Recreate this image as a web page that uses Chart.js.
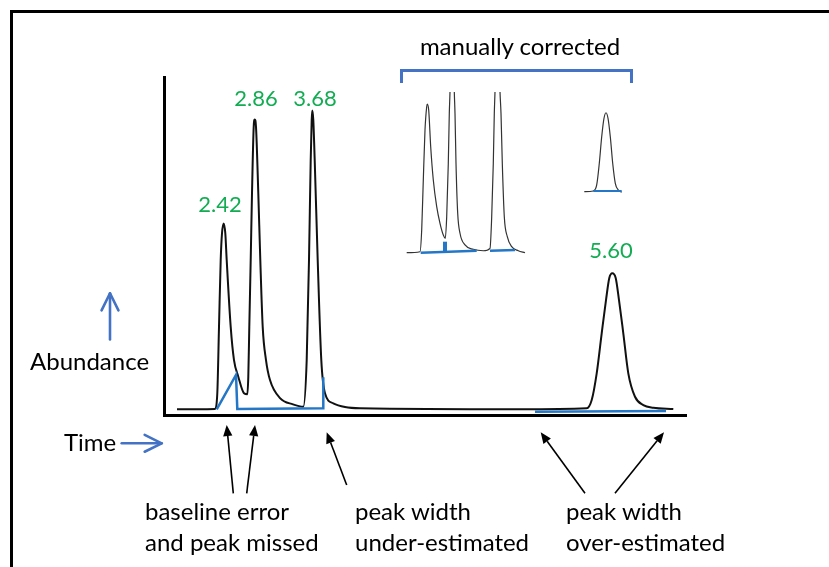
<!DOCTYPE html>
<html>
<head>
<meta charset="utf-8">
<script src="https://cdn.jsdelivr.net/npm/chart.js@4.4.1/dist/chart.umd.min.js"></script>
<style>
  html, body { margin: 0; padding: 0; background: #fff; }
  body { width: 829px; height: 567px; position: relative; overflow: hidden; font-family: Lato, "Open Sans", sans-serif; }
  #frame { position: absolute; left: 10px; top: 10px; width: 900px; height: 700px; border-left: 3px solid #000; border-top: 3px solid #000; }
  #main { position: absolute; left: 0; top: 0; }
  #inset { position: absolute; left: 404px; top: 92px; }
  #bracket { position: absolute; left: 400px; top: 69px; width: 233px; height: 14px; box-sizing: border-box; border: 3px solid #4472c4; border-bottom: none; }
  .lbl { position: absolute; font-size: 24px; line-height: 24px; color: #000; white-space: nowrap; }
  .rt { color: #12ad52; font-size: 22px; line-height: 22px; transform: translateX(-50%); }
  .note { line-height: 31px; }
</style>
</head>
<body>
<div id="frame"></div>
<canvas id="main" width="829" height="567"></canvas>
<canvas id="inset" width="222" height="162"></canvas>
<div id="bracket"></div>

<div class="lbl" style="left:520px;top:34px;transform:translateX(-50%)">manually corrected</div>
<div class="lbl rt" style="left:220px;top:193px">2.42</div>
<div class="lbl rt" style="left:256px;top:87px">2.86</div>
<div class="lbl rt" style="left:315px;top:87px">3.68</div>
<div class="lbl rt" style="left:611px;top:239px">5.60</div>
<div class="lbl" style="left:30px;top:349px">Abundance</div>
<div class="lbl" style="left:64px;top:430px">Time</div>
<div class="lbl note" style="left:145px;top:495px">baseline error<br>and peak missed</div>
<div class="lbl note" style="left:355px;top:495px">peak width<br>under-estimated</div>
<div class="lbl note" style="left:566px;top:495px">peak width<br>over-estimated</div>

<script>
// main chromatogram: retention time (arb. units) vs abundance (%)
const traceTime = [0.28, 1.04, 1.086, 1.12, 1.154, 1.18, 1.214, 1.246, 1.274, 1.354, 1.42, 1.506, 1.62, 1.686,
  1.706, 1.726, 1.754, 1.78, 1.814, 1.834, 1.86, 1.906, 1.946, 1.994, 2.06, 2.14, 2.34, 2.60,
  2.806, 2.874, 2.92, 2.954, 2.974, 2.986, 3.006, 3.034, 3.094, 3.166, 3.24, 3.406, 3.64, 3.94,
  7.14, 8.474, 8.574, 8.674, 8.774, 8.86, 8.926, 8.986, 9.054, 9.12, 9.206, 9.306, 9.44, 9.606, 9.806, 10.206];
const traceAbund = [2.0, 2.1, 6.7, 26.3, 46.0, 53.9, 56.8, 53.9, 46.0, 26.3, 16.5, 11.6, 6.7, 6.4,
  11.6, 26.3, 46.0, 65.7, 85.3, 87.5, 85.3, 65.7, 46.0, 26.3, 16.5, 10.6, 5.3, 3.45,
  2.74, 16.5, 46.0, 75.5, 87.3, 90.1, 87.3, 75.5, 46.0, 16.5, 6.7, 3.75, 2.65, 2.27,
  1.98, 2.27, 4.72, 12.6, 24.4, 34.2, 40.7, 42.1, 40.7, 34.2, 24.4, 12.6, 5.69, 3.24, 2.45, 2.06];

// automatic integration baselines (blue)
const fitTimeA = [1.074, 1.46, 1.486, 3.206, 3.206];
const fitAbundA = [1.98, 12.1, 2.06, 2.27, 11.4];
const fitTimeB = [7.44, 10.06];
const fitAbundB = [1.27, 1.47];

// inset: manually corrected integration (zoomed)
const insetTime = [0.054, 0.32, 0.354, 0.386, 0.42, 0.454, 0.466, 0.494, 0.534, 0.586,
  0.654, 0.72, 0.786, 0.826, 0.854, 0.886, 0.906, 0.92, 0.963, 1.006,
  1.02, 1.04, 1.074, 1.12, 1.22, 1.386, 1.586, 1.72, 1.754, 1.786,
  1.806, 1.82, 1.87, 1.92, 1.94, 1.966, 2.006, 2.066, 2.154, 2.286, 2.42];
const insetAbund = [0.8, 1.4, 14.8, 45.7, 76.5, 90.9, 92.6, 88.9, 66.2, 45.7,
  29.2, 18.9, 11.7, 9.7, 23.0, 56.0, 86.8, 100.2, 160, 100.2,
  86.8, 56.0, 25.1, 12.8, 5.6, 2.9, 2.0, 3.5, 23.0, 56.0,
  86.8, 100.2, 160, 100.2, 86.8, 56.0, 23.0, 10.7, 4.5, 2.0, 0.8];
const insetTimeD = [3.606, 3.786, 3.854, 3.906, 3.954, 4.0, 4.04, 4.08, 4.126, 4.174, 4.226, 4.286, 4.354];
const insetAbundD = [38.5, 38.9, 42.6, 56.0, 72.4, 83.8, 87.2, 83.8, 72.4, 56.0, 43.6, 39.5, 38.1];

const insetFitTimeA = [0.334, 1.454];
const insetFitAbundA = [0.8, 2.0];
const insetFitTimeB = [0.82, 0.82];
const insetFitAbundB = [1.5, 7.6];
const insetFitTimeC = [1.72, 2.22];
const insetFitAbundC = [2.0, 2.5];
const insetFitTimeD = [3.786, 4.354];
const insetFitAbundD = [38.9, 38.9];

const fitBlue = '#2377c6';
const arrowBlue = '#4472c4';

const pts = (xs, ys) => xs.map((v, i) => ({ x: v, y: ys[i] }));

const seg = (xs, ys, width) => ({
  data: pts(xs, ys),
  borderColor: fitBlue,
  borderWidth: width || 2.5,
  tension: 0,
  borderCapStyle: 'butt'
});

// arrows drawn in data space through the chart scales
const arrowPlugin = {
  id: 'arrows',
  afterDraw(chart, args, opts) {
    const { ctx, scales: { x, y } } = chart;
    ctx.save();
    opts.items.forEach(a => {
      const x0 = x.getPixelForValue(a.from[0]), y0 = y.getPixelForValue(a.from[1]);
      const x1 = x.getPixelForValue(a.to[0]), y1 = y.getPixelForValue(a.to[1]);
      const ang = Math.atan2(y1 - y0, x1 - x0);
      ctx.strokeStyle = a.color;
      ctx.fillStyle = a.color;
      ctx.lineWidth = a.width;
      if (a.open) {
        ctx.lineCap = 'round';
        ctx.lineJoin = 'round';
        ctx.beginPath();
        ctx.moveTo(x0, y0);
        ctx.lineTo(x1, y1);
        ctx.stroke();
        ctx.beginPath();
        ctx.moveTo(x1 - a.head * Math.cos(ang - a.spread), y1 - a.head * Math.sin(ang - a.spread));
        ctx.lineTo(x1, y1);
        ctx.lineTo(x1 - a.head * Math.cos(ang + a.spread), y1 - a.head * Math.sin(ang + a.spread));
        ctx.stroke();
      } else {
        const bx = x1 - a.head * Math.cos(ang), by = y1 - a.head * Math.sin(ang);
        ctx.beginPath();
        ctx.moveTo(x0, y0);
        ctx.lineTo(bx, by);
        ctx.stroke();
        const hw = a.head * 0.42;
        ctx.beginPath();
        ctx.moveTo(x1, y1);
        ctx.lineTo(bx + hw * Math.sin(ang), by - hw * Math.cos(ang));
        ctx.lineTo(bx - hw * Math.sin(ang), by + hw * Math.cos(ang));
        ctx.closePath();
        ctx.fill();
      }
    });
    ctx.restore();
  }
};

const black = { color: '#000', width: 1.6, head: 11 };
const blueArrow = { color: arrowBlue, width: 2.6, head: 19, spread: 0.46, open: true };

new Chart(document.getElementById('main'), {
  type: 'line',
  data: {
    datasets: [
      seg(fitTimeA, fitAbundA),
      seg(fitTimeB, fitAbundB),
      {
        data: pts(traceTime, traceAbund),
        borderColor: '#111',
        borderWidth: 2,
        cubicInterpolationMode: 'monotone'
      }
    ]
  },
  options: {
    responsive: false,
    animation: false,
    devicePixelRatio: 1,
    layout: { padding: { left: 164, top: 77, right: 143, bottom: 152 } },
    elements: { point: { radius: 0 } },
    scales: {
      x: {
        type: 'linear', min: 0.02, max: 10.46,
        ticks: { display: false },
        grid: { display: false, drawTicks: false },
        border: { color: '#000', width: 3 }
      },
      y: {
        type: 'linear', min: 0.3, max: 100,
        ticks: { display: false },
        grid: { display: false, drawTicks: false },
        border: { color: '#000', width: 3 }
      }
    },
    plugins: {
      legend: { display: false },
      tooltip: { enabled: false },
      arrows: {
        items: [
          { ...black, from: [1.406, -22.8], to: [1.274, -2.65] },
          { ...black, from: [1.674, -22.8], to: [1.84, -2.65] },
          { ...black, from: [3.674, -20.35], to: [3.274, -4.8] },
          { ...black, from: [8.44, -22.8], to: [7.554, -4.8] },
          { ...black, from: [9.04, -22.8], to: [10.02, -4.8] },
          { ...blueArrow, from: [-1.06, 22.6], to: [-1.06, 36.2] },
          { ...blueArrow, from: [-0.826, -8.05], to: [-0.026, -8.05] }
        ]
      }
    }
  },
  plugins: [arrowPlugin]
});

new Chart(document.getElementById('inset'), {
  type: 'line',
  data: {
    datasets: [
      seg(insetFitTimeA, insetFitAbundA),
      seg(insetFitTimeB, insetFitAbundB, 4),
      seg(insetFitTimeC, insetFitAbundC),
      seg(insetFitTimeD, insetFitAbundD, 2),
      {
        data: pts(insetTime, insetAbund),
        borderColor: '#333',
        borderWidth: 1.2,
        cubicInterpolationMode: 'monotone'
      },
      {
        data: pts(insetTimeD, insetAbundD),
        borderColor: '#333',
        borderWidth: 1.2,
        cubicInterpolationMode: 'monotone'
      }
    ]
  },
  options: {
    responsive: false,
    animation: false,
    devicePixelRatio: 1,
    layout: { padding: 0 },
    elements: { point: { radius: 0 } },
    scales: {
      x: { type: 'linear', min: 0, max: 4.44, display: false },
      y: { type: 'linear', min: 0, max: 100, display: false }
    },
    plugins: { legend: { display: false }, tooltip: { enabled: false } }
  }
});
</script>
</body>
</html>
